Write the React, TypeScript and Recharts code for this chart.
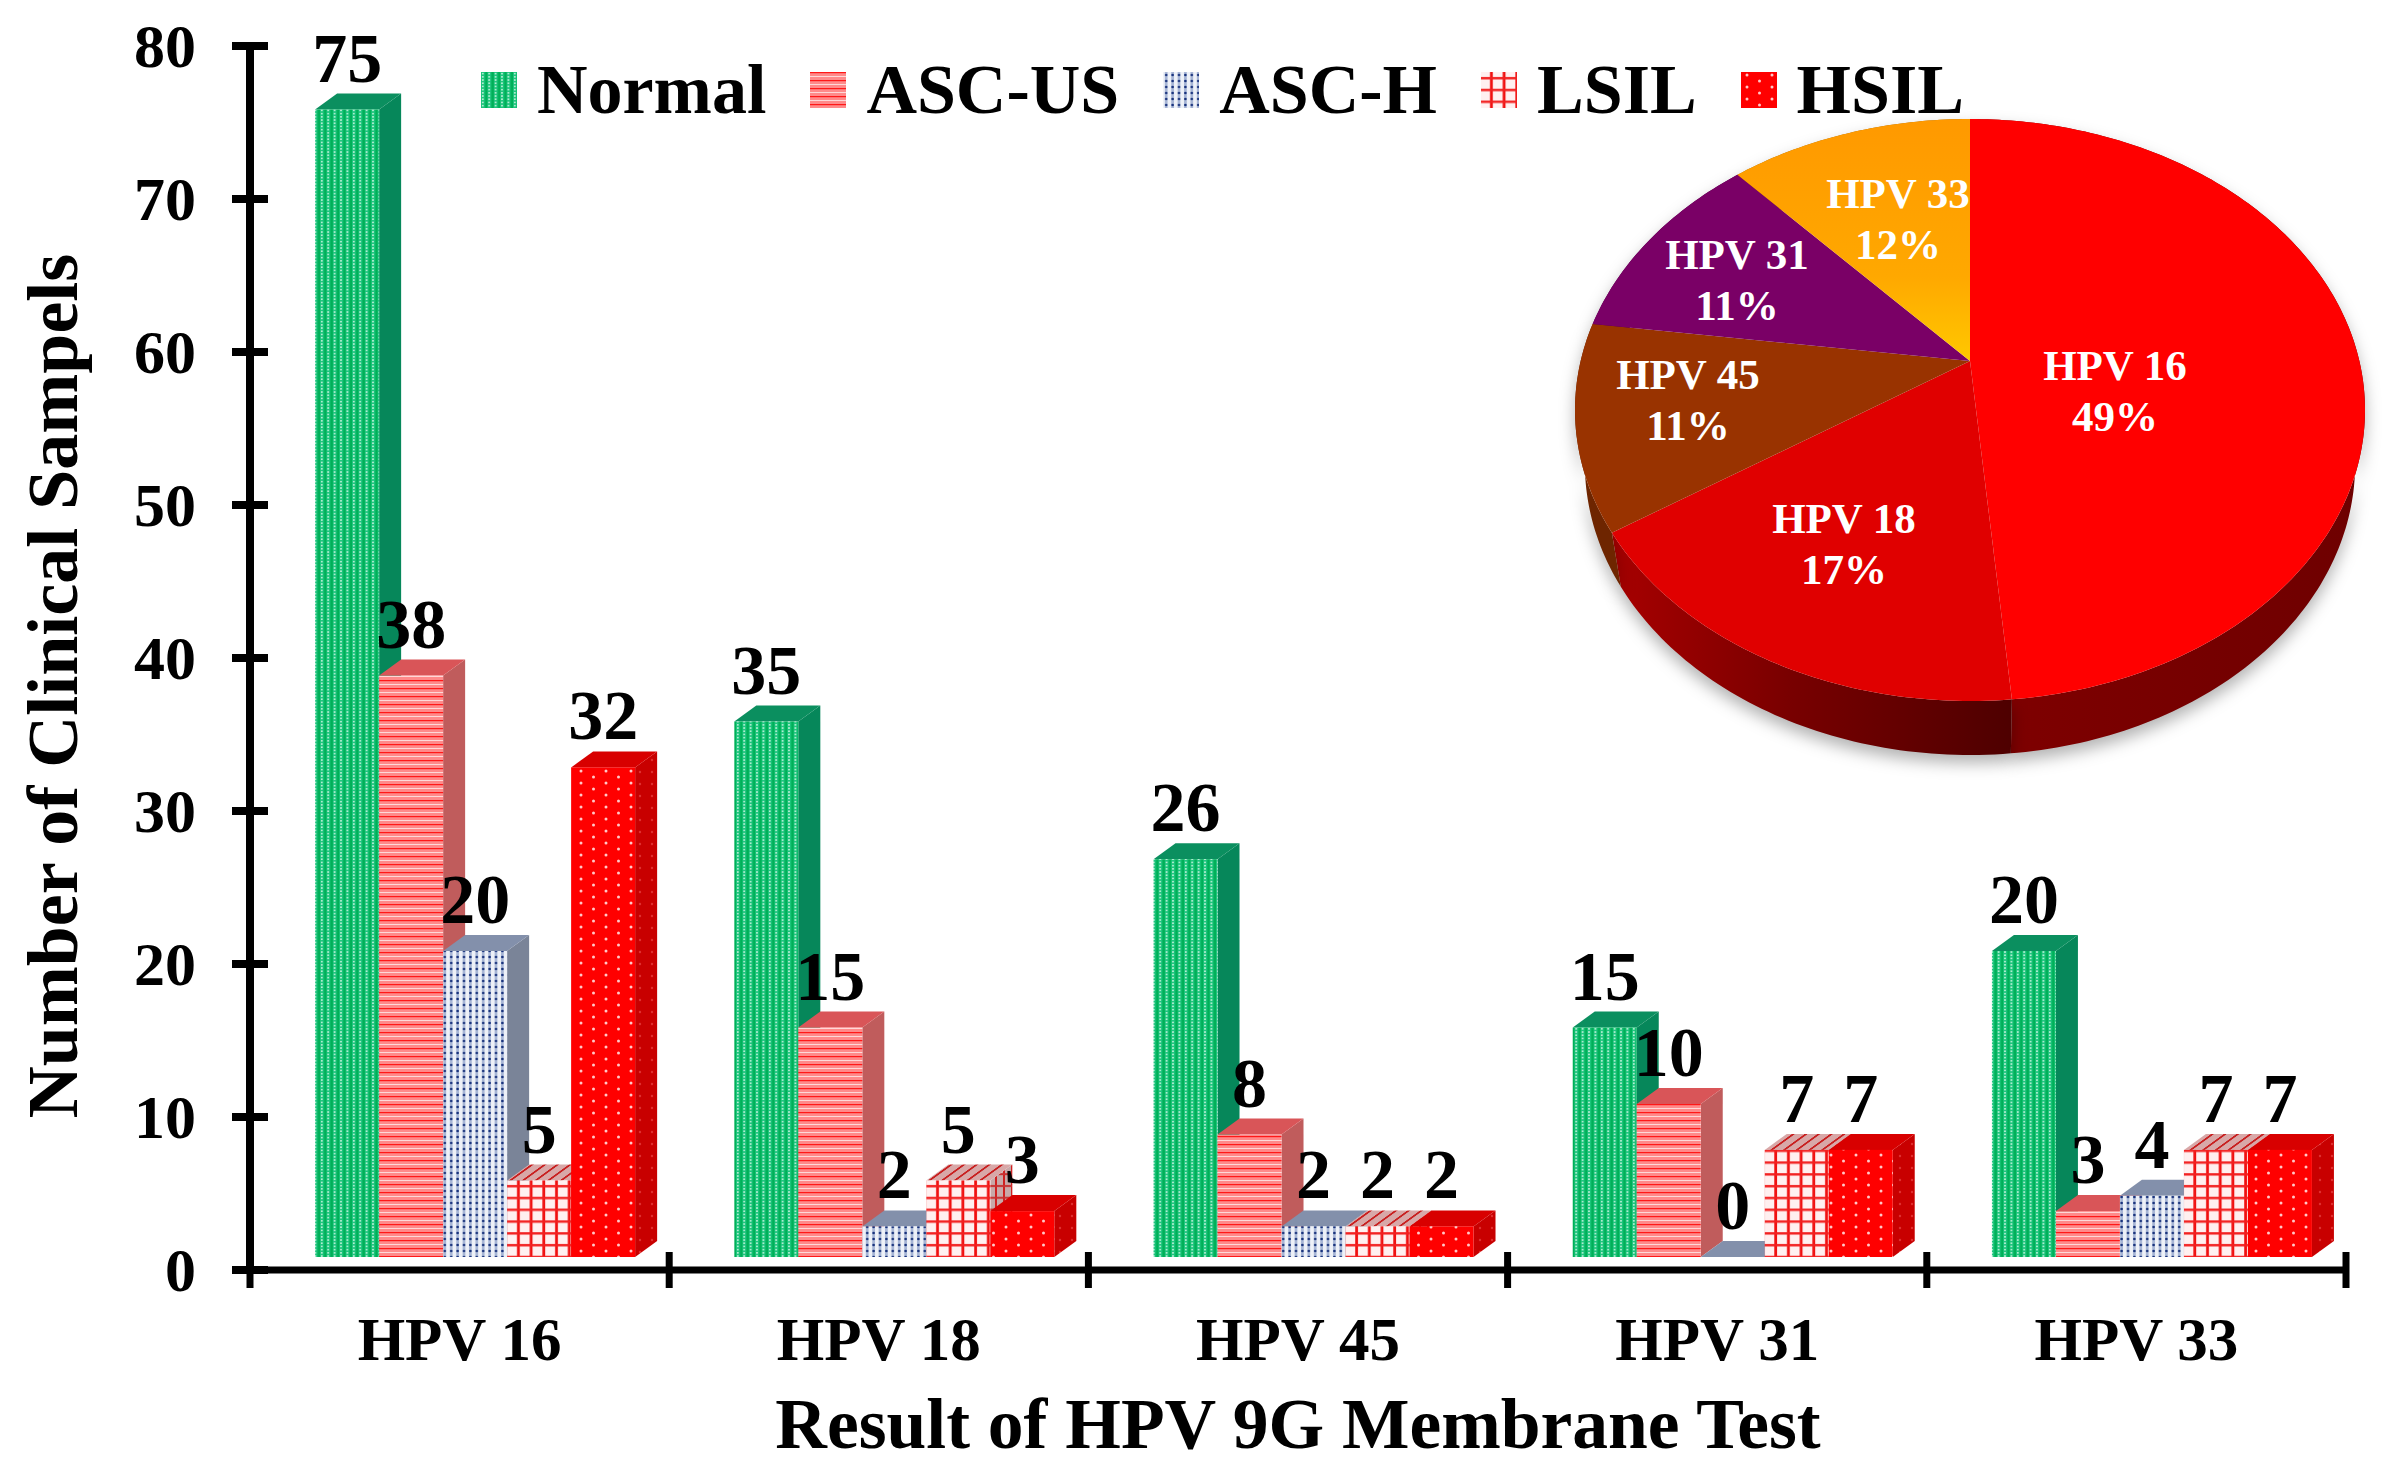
import {
	Bar,
	BarChart,
	Legend,
	LabelList,
	Pie,
	PieChart,
	XAxis,
	YAxis,
} from "recharts";

const FONT = "'Liberation Serif', serif";

const categories = ["HPV 16", "HPV 18", "HPV 45", "HPV 31", "HPV 33"];
const normal = [75, 35, 26, 15, 20];
const ascUs = [38, 15, 8, 10, 3];
const ascH = [20, 2, 2, 0, 4];
const lsil = [5, 5, 2, 7, 7];
const hsil = [32, 3, 2, 7, 7];
const yTicks = [0, 10, 20, 30, 40, 50, 60, 70, 80];

const pieNames = ["HPV 16", "HPV 18", "HPV 45", "HPV 31", "HPV 33"];
// sample totals per type, these give the printed 49 / 17 / 11 / 11 / 12 %
const pieValues = [170, 60, 40, 39, 41];
const pieFills = ["#ff0000", "#e00000", "#993300", "#7a0066", "url(#pie33)"];
const pieWalls = ["url(#wall16)", "url(#wall18)", "#6e2500", "#4d0040", "#a86600"];

const barData = categories.map((name, i) => ({
	name,
	Normal: normal[i],
	"ASC-US": ascUs[i],
	"ASC-H": ascH[i],
	LSIL: lsil[i],
	HSIL: hsil[i],
}));

const pieData = pieNames.map((name, i) => ({
	name,
	value: pieValues[i],
	fill: pieFills[i],
	wall: pieWalls[i],
}));

// look of each series: front pattern, side and top of the box
const seriesLook = [
	{ key: "Normal", front: "url(#pNormal)", side: "#06875a", top: "#0b8f5f" },
	{ key: "ASC-US", front: "url(#pAscUs)", side: "#c05c5c", top: "#d95558" },
	{ key: "ASC-H", front: "url(#pAscH)", side: "#7a8498", top: "#8390ab" },
	{ key: "LSIL", front: "url(#pLsil)", side: "url(#pLsilSide)", top: "url(#pLsilTop)" },
	{ key: "HSIL", front: "url(#pHsil)", side: "url(#pHsilSide)", top: "#d80000" },
];

// the boxes stand a bit off the axes in the original
const SHIFT_X = 16.5;
const SHIFT_Y = -13;
const DEPTH_X = 22;
const DEPTH_Y = 16;

const BoxShape = ({ x, y, width, height, look }: any) => {
	const l = x + SHIFT_X;
	const t = y + SHIFT_Y;
	const r = l + width;
	const b = t + height;
	return (
		<g>
			<polygon
				fill={look.side}
				points={`${r},${t} ${r + DEPTH_X},${t - DEPTH_Y} ${r + DEPTH_X},${b - DEPTH_Y} ${r},${b}`}
			/>
			<polygon
				fill={look.top}
				points={`${l},${t} ${l + DEPTH_X},${t - DEPTH_Y} ${r + DEPTH_X},${t - DEPTH_Y} ${r},${t}`}
			/>
			{height > 0 && <rect fill={look.front} height={height} width={width} x={l} y={t} />}
		</g>
	);
};

const BoxLabel = ({ x, y, width, value }: any) => (
	<text
		fill="#000"
		fontFamily={FONT}
		fontSize={70}
		fontWeight="bold"
		textAnchor="middle"
		x={x + SHIFT_X + width / 2}
		y={y + SHIFT_Y - 28}
	>
		{value}
	</text>
);

const AXIS_X = 250;

const YTick = ({ y, payload }: any) => (
	<g>
		<line stroke="#000" strokeWidth={8} x1={AXIS_X - 18} x2={AXIS_X + 18} y1={y} y2={y} />
		<text
			fill="#000"
			fontFamily={FONT}
			fontSize={62}
			fontWeight="bold"
			textAnchor="end"
			x={AXIS_X - 54}
			y={y + 21}
		>
			{payload.value}
		</text>
	</g>
);

const XTick = ({ x, y, payload, width, visibleTicksCount, index }: any) => {
	const band = width / visibleTicksCount;
	const axisY = 1270;
	const edge = (pos: number) => (
		<line stroke="#000" strokeWidth={7} x1={pos} x2={pos} y1={axisY - 18} y2={axisY + 18} />
	);
	return (
		<g>
			{index === 0 && edge(payload.coordinate - band / 2)}
			{edge(payload.coordinate + band / 2)}
			<text
				fill="#000"
				fontFamily={FONT}
				fontSize={61}
				fontWeight="bold"
				textAnchor="middle"
				x={x}
				y={1360}
			>
				{payload.value}
			</text>
		</g>
	);
};

const renderLegend = ({ payload }: any) => (
	<div style={{ display: "flex", gap: 44, alignItems: "center", whiteSpace: "nowrap" }}>
		{payload.map((item: any) => (
			<div key={item.value} style={{ display: "flex", alignItems: "center" }}>
				<svg height={36} style={{ marginRight: 20 }} width={36}>
					<rect fill={item.color} height={36} width={36} />
				</svg>
				<span
					style={{
						fontFamily: FONT,
						fontSize: 70,
						fontWeight: "bold",
						lineHeight: "70px",
						color: "#000",
					}}
				>
					{item.value}
				</span>
			</div>
		))}
	</div>
);

// the pie is seen in perspective: centre of the disc sits above centre of the ellipse
const SQUASH = 291 / 395;
const TILT = 0.168;
const WALL = 54;
const WALL_SCALE = 0.975;

const rimPoint = (deg: number, cx: number, cy: number, r: number) => {
	const u = Math.sin((deg * Math.PI) / 180);
	const v = Math.cos((deg * Math.PI) / 180);
	const d = 1 + TILT * v;
	return {
		x: cx + (r * u * Math.sqrt(1 - TILT * TILT)) / d,
		y: cy - (r * SQUASH * (v + TILT)) / d,
	};
};

const rimPoints = (props: any) => {
	const from = 90 - props.startAngle;
	const to = 90 - props.endAngle;
	const pts = [];
	for (let a = from; a < to; a += 1) {
		pts.push(rimPoint(a, props.cx, props.cy, props.outerRadius));
	}
	pts.push(rimPoint(to, props.cx, props.cy, props.outerRadius));
	return pts;
};

const PieTop = (props: any) => {
	const pts = rimPoints(props);
	const apex = { x: props.cx, y: props.cy - props.outerRadius * SQUASH * TILT };
	const d = [apex, ...pts].map((p) => `${p.x},${p.y}`).join(" ");
	return <polygon fill={props.fill} points={d} />;
};

const PieWall = (props: any) => {
	const pts = rimPoints(props);
	const lower = pts
		.map((p) => ({ x: props.cx + (p.x - props.cx) * WALL_SCALE, y: p.y + WALL }))
		.reverse();
	const d = [...pts, ...lower].map((p) => `${p.x},${p.y}`).join(" ");
	return (
		<polygon
			fill={props.wall}
			points={d}
			style={{ filter: "drop-shadow(0 8px 8px rgba(0,0,0,0.3))" }}
		/>
	);
};

const labelSpots = [
	{ x: 2115, y: 391 },
	{ x: 1844, y: 544 },
	{ x: 1688, y: 400 },
	{ x: 1737, y: 280 },
	{ x: 1898, y: 219 },
];

const PieLabel = ({ index, name, percent }: any) => {
	const spot = labelSpots[index];
	return (
		<text
			fill="#fff"
			fontFamily={FONT}
			fontSize={43}
			fontWeight="bold"
			textAnchor="middle"
		>
			<tspan x={spot.x} y={spot.y - 11}>
				{name}
			</tspan>
			<tspan x={spot.x} y={spot.y + 40}>
				{Math.round(percent * 100)}%
			</tspan>
		</text>
	);
};

const Patterns = () => (
	<defs>
		<pattern height={3.2} id="pNormal" patternUnits="userSpaceOnUse" width={6.4}>
			<rect fill="#1cc47c" height={3.2} width={6.4} />
			<rect fill="#00b058" height={3.2} width={2.4} x={4} />
			<circle cx={1.8} cy={1.6} fill="#dcf9e9" r={0.9} />
		</pattern>
		<pattern height={8} id="pAscUs" patternUnits="userSpaceOnUse" width={8}>
			<rect fill="#ff8a8a" height={8} width={8} />
			<rect fill="#ff1818" height={1.2} width={8} />
			<rect fill="#ffd8d8" height={1} width={8} y={4} />
		</pattern>
		<pattern height={6} id="pAscH" patternUnits="userSpaceOnUse" width={6.4}>
			<rect fill="#eef1f8" height={6} width={6.4} />
			<rect fill="#a8b6d6" height={6} width={2.8} x={1.8} />
			<circle cx={3.2} cy={3} fill="#16307a" r={1.3} />
		</pattern>
		<pattern height={11.8} id="pLsil" patternUnits="userSpaceOnUse" width={12.7}>
			<rect fill="#fff0f0" height={11.8} width={12.7} />
			<rect fill="#f01010" height={11.8} width={2.8} x={9} />
			<rect fill="#f22020" height={2.4} width={12.7} y={5} />
		</pattern>
		<pattern height={11.8} id="pLsilSide" patternUnits="userSpaceOnUse" width={8}>
			<rect fill="#c8a8a8" height={11.8} width={8} />
			<rect fill="#d02020" height={11.8} width={2} x={3} />
			<rect fill="#c83030" height={2} width={8} y={5} />
		</pattern>
		<pattern
			height={12}
			id="pLsilTop"
			patternTransform="skewX(-54)"
			patternUnits="userSpaceOnUse"
			width={12.7}
		>
			<rect fill="#d8a8a8" height={12} width={12.7} />
			<rect fill="#c82020" height={12} width={3} />
		</pattern>
		<pattern height={12} id="pHsil" patternUnits="userSpaceOnUse" width={25}>
			<rect fill="#ff0000" height={12} width={25} />
			<circle cx={6} cy={3} fill="#ffc8c8" r={1.5} />
			<circle cx={18.5} cy={9} fill="#ffc8c8" r={1.5} />
		</pattern>
		<pattern height={12} id="pHsilSide" patternUnits="userSpaceOnUse" width={12}>
			<rect fill="#c80000" height={12} width={12} />
			<circle cx={4} cy={4} fill="#e03030" r={1.2} />
		</pattern>
	</defs>
);

export default function App() {
	return (
		<div
			style={{
				position: "absolute",
				left: 0,
				top: 0,
				width: 2392,
				height: 1476,
				background: "#fff",
				overflow: "hidden",
			}}
		>
			<div style={{ position: "absolute", left: 0, top: 0 }}>
				<BarChart
					barCategoryGap="11.6%"
					barGap={0}
					data={barData}
					height={1476}
					margin={{ top: 46, right: 46, bottom: 0, left: 0 }}
					width={2392}
				>
					<Patterns />
					<XAxis
						axisLine={{ stroke: "#000", strokeWidth: 7 }}
						dataKey="name"
						height={206}
						interval={0}
						label={{
							content: () => (
								<text
									fill="#000"
									fontFamily={FONT}
									fontSize={71.5}
									fontWeight="bold"
									textAnchor="middle"
									x={1298}
									y={1448}
								>
									Result of HPV 9G Membrane Test
								</text>
							),
						}}
						tick={<XTick />}
						tickLine={false}
					/>
					<YAxis
						axisLine={{ stroke: "#000", strokeWidth: 8 }}
						domain={[0, 80]}
						interval={0}
						label={{
							content: () => (
								<text
									fill="#000"
									fontFamily={FONT}
									fontSize={72}
									fontWeight="bold"
									textAnchor="middle"
									transform="rotate(-90 77 686)"
									x={77}
									y={686}
								>
									Number of Clinical Sampels
								</text>
							),
						}}
						tick={<YTick />}
						tickLine={false}
						ticks={yTicks}
						width={AXIS_X}
					/>
					<Legend
						align="center"
						content={renderLegend}
						itemSorter={null}
						layout="horizontal"
						verticalAlign="middle"
						wrapperStyle={{ left: 481, top: 55, width: "auto" }}
					/>
					{seriesLook.map((look) => (
						<Bar
							dataKey={look.key}
							fill={look.front}
							isAnimationActive={false}
							key={look.key}
							shape={(props: any) => <BoxShape {...props} look={look} />}
						>
							<LabelList
								content={(props: any) => <BoxLabel {...props} />}
								dataKey={look.key}
							/>
						</Bar>
					))}
				</BarChart>
			</div>
			<div style={{ position: "absolute", left: 0, top: 0 }}>
				<PieChart height={1476} margin={{ top: 0, right: 0, bottom: 0, left: 0 }} width={2392}>
					<defs>
						<linearGradient id="wall16" x1="0" x2="1" y1="0" y2="0">
							<stop offset="0%" stopColor="#800000" />
							<stop offset="100%" stopColor="#6e0000" />
						</linearGradient>
						<linearGradient id="wall18" x1="0" x2="1" y1="0" y2="0">
							<stop offset="0%" stopColor="#a80000" />
							<stop offset="45%" stopColor="#780000" />
							<stop offset="100%" stopColor="#4e0000" />
						</linearGradient>
						<linearGradient id="pie33" x1="0" x2="0" y1="0" y2="1">
							<stop offset="0%" stopColor="#ff9900" />
							<stop offset="65%" stopColor="#ffa800" />
							<stop offset="100%" stopColor="#ffc800" />
						</linearGradient>
					</defs>
					<Pie
						cx={1970}
						cy={410}
						data={pieData}
						dataKey="value"
						endAngle={-270}
						isAnimationActive={false}
						label={false}
						labelLine={false}
						outerRadius={395}
						shape={(props: any) => <PieWall {...props} />}
						startAngle={90}
						stroke="none"
					/>
					<Pie
						cx={1970}
						cy={410}
						data={pieData}
						dataKey="value"
						endAngle={-270}
						isAnimationActive={false}
						label={(props: any) => <PieLabel {...props} />}
						labelLine={false}
						outerRadius={395}
						shape={(props: any) => <PieTop {...props} />}
						startAngle={90}
						stroke="none"
					/>
				</PieChart>
			</div>
		</div>
	);
}
